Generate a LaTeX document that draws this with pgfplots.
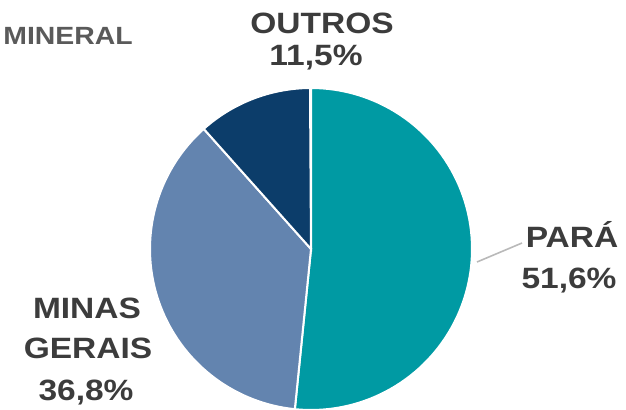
\documentclass[border=0pt]{standalone}
\usepackage{pgfplots}
\pgfplotsset{compat=1.18}
\usepackage{pgfplotstable}
\usetikzlibrary{calc}
\usepackage{fontspec}
\setmainfont{Liberation Sans}
\definecolor{cPara}{HTML}{009AA3}
\definecolor{cMinas}{HTML}{6384AF}
\definecolor{cOutros}{HTML}{0C3D6A}
\definecolor{cText}{HTML}{3C3C3C}
\definecolor{cTitle}{HTML}{5A5A5A}
\pgfplotstableread{
label value
PARA 51.6
MINAS 36.8
OUTROS 11.5
}\piedata
\pgfplotstablegetelem{0}{value}\of\piedata \let\vA\pgfplotsretval
\pgfplotstablegetelem{1}{value}\of\piedata \let\vB\pgfplotsretval
\pgfplotstablegetelem{2}{value}\of\piedata \let\vC\pgfplotsretval
\pgfmathsetmacro{\aA}{90}
\pgfmathsetmacro{\aB}{\aA-3.6*\vA}
\pgfmathsetmacro{\aC}{\aB-3.6*\vB}
\pgfmathsetmacro{\aD}{\aC-3.6*\vC}
\def\cx{311}\def\cy{-249}\def\rr{161}
\begin{document}
\begin{tikzpicture}
\begin{axis}[name=ax, scale only axis, width=626bp, height=410bp, hide axis,
  xmin=0, xmax=626, ymin=-410, ymax=0, clip=true]
\addplot[fill=cPara, draw=white, line width=2bp, domain=\aA:\aB, samples=90, variable=\t]
  ({\cx+\rr*cos(\t)},{\cy+\rr*sin(\t)}) -- (axis cs:\cx,\cy) -- cycle;
\addplot[fill=cMinas, draw=white, line width=2bp, domain=\aB:\aC, samples=70, variable=\t]
  ({\cx+\rr*cos(\t)},{\cy+\rr*sin(\t)}) -- (axis cs:\cx,\cy) -- cycle;
\addplot[fill=cOutros, draw=white, line width=2bp, domain=\aC:\aD, samples=30, variable=\t]
  ({\cx+\rr*cos(\t)},{\cy+\rr*sin(\t)}) -- (axis cs:\cx,\cy) -- cycle;
\addplot[color=gray!55, line width=1.6bp] coordinates {(477,-262) (522,-243)};
\end{axis}
\begin{scope}[every node/.style={inner sep=0pt, anchor=base, text=cText, font=\fontsize{29.5}{29.5}\selectfont\bfseries, xscale=1.14}]
\node at ($(ax.north west)+(322bp,-33bp)$) {OUTROS};
\node at ($(ax.north west)+(316bp,-65bp)$) {11,5\%};
\node at ($(ax.north west)+(572bp,-247bp)$) {PARÁ};
\node at ($(ax.north west)+(569bp,-288bp)$) {51,6\%};
\node at ($(ax.north west)+(87bp,-318bp)$) {MINAS};
\node at ($(ax.north west)+(88bp,-358bp)$) {GERAIS};
\node at ($(ax.north west)+(86bp,-400bp)$) {36,8\%};
\node[anchor=base east, text=cTitle, xscale=1.0, font=\fontsize{25}{25}\selectfont\bfseries] at ($(ax.north west)+(133bp,-44bp)$) {MINERAL};
\end{scope}
\pgfresetboundingbox
\path[use as bounding box] (ax.south west) rectangle (ax.north east);
\end{tikzpicture}
\end{document}
